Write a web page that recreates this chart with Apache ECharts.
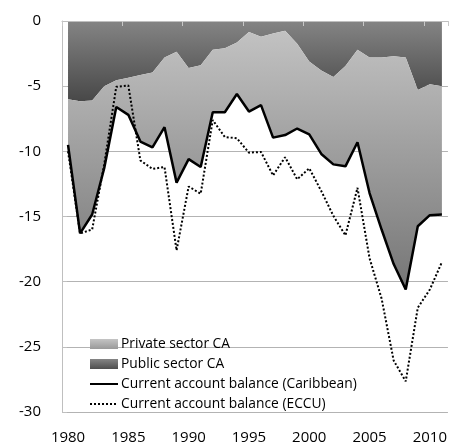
<!DOCTYPE html>
<html>
<head>
<meta charset="utf-8">
<script src="https://cdn.jsdelivr.net/npm/echarts@6/dist/echarts.min.js"></script>
<style>html,body{margin:0;padding:0;background:#fff}#c{width:450px;height:445px}</style>
</head>
<body>
<div id="c"></div>
<script>
var years = [];
for (var y = 1980; y <= 2011; y++) years.push(String(y));

var publicCA = [-6.0,-6.15,-6.1,-5.0,-4.55,-4.35,-4.15,-3.95,-2.8,-2.35,-3.6,-3.4,-2.2,-2.1,-1.65,-0.85,
  -1.2,-0.95,-0.75,-1.75,-3.1,-3.8,-4.3,-3.45,-2.2,-2.8,-2.8,-2.7,-2.8,-5.3,-4.85,-5.0];
var caribbean = [-9.5,-16.3,-14.85,-11.3,-6.6,-7.2,-9.25,-9.7,-8.15,-12.4,-10.6,-11.2,-7.0,-7.0,-5.6,-6.95,
  -6.45,-8.95,-8.75,-8.25,-8.7,-10.2,-11.0,-11.15,-9.3,-13.2,-16.0,-18.65,-20.6,-15.75,-14.9,-14.85];
var eccu = [-10.0,-16.3,-16.0,-11.0,-5.05,-4.95,-10.7,-11.35,-11.2,-17.6,-12.7,-13.25,-7.6,-8.9,-9.0,-10.1,
  -10.05,-11.85,-10.45,-12.15,-11.3,-13.05,-14.95,-16.45,-12.8,-18.2,-21.3,-26.05,-27.65,-22.0,-20.6,-18.5];
var privateCA = caribbean.map(function (v, i) { return +(v - publicCA[i]).toFixed(2); });

var names = ['Private sector CA', 'Public sector CA', 'Current account balance (Caribbean)', 'Current account balance (ECCU)'];

function grad(a, b) {
  return new echarts.graphic.LinearGradient(0, 0, 0, 1, [{offset: 0, color: a}, {offset: 1, color: b}]);
}
var darkGrad = grad('#848484', '#484848');
var lightGrad = grad('#c2c2c2', '#767676');

var chart = echarts.init(document.getElementById('c'), null, {renderer: 'canvas'});
var font = '"Open Sans", "Liberation Sans", sans-serif';
chart.setOption({
  animation: false,
  grid: {left: 62, right: 2, top: 21, bottom: 32},
  legend: {
    orient: 'vertical', left: 84, top: 332,
    itemWidth: 28, itemHeight: 10, itemGap: 6,
    textStyle: {fontFamily: font, fontSize: 13.8, color: '#000', padding: [0, 0, 0, -2]},
    data: [
      {name: names[0], icon: 'rect', itemStyle: {color: grad('#c4c4c4', '#999999'), borderWidth: 0}},
      {name: names[1], icon: 'rect', itemStyle: {color: grad('#858585', '#4e4e4e'), borderWidth: 0}},
      {name: names[2], itemStyle: {opacity: 0}},
      {name: names[3], itemStyle: {opacity: 0}}
    ]
  },
  xAxis: [{
    type: 'category', data: years, position: 'top', boundaryGap: true, z: 10,
    axisLine: {show: true, onZero: false, lineStyle: {color: '#bfbfbf', width: 1}},
    axisTick: {show: true, inside: true, length: 5, interval: 4, lineStyle: {color: '#c8c8c8'}},
    axisLabel: {show: false}, splitLine: {show: false}
  }, {
    type: 'category', data: years, position: 'bottom', boundaryGap: true,
    axisLine: {show: false}, axisTick: {show: false},
    axisLabel: {interval: 4, margin: 18, fontFamily: font, fontSize: 15, color: '#000'},
    splitLine: {show: false}
  }],
  yAxis: {
    type: 'value', min: -30, max: 0, interval: 5,
    axisLine: {show: true, lineStyle: {color: '#bfbfbf'}},
    axisTick: {show: true, inside: true, length: 5, lineStyle: {color: '#bfbfbf'}},
    axisLabel: {margin: 21, fontFamily: font, fontSize: 15, color: '#000'},
    splitLine: {show: true, lineStyle: {color: '#b3b3b3', width: 1}}
  },
  series: [{
    name: names[1], type: 'line', stack: 'ca', data: publicCA, symbol: 'none',
    itemStyle: {color: '#6a6a6a'},
    lineStyle: {width: 0, opacity: 0}, areaStyle: {color: darkGrad, opacity: 1}
  }, {
    name: names[0], type: 'line', stack: 'ca', data: privateCA, symbol: 'none',
    itemStyle: {color: '#aaaaaa'},
    lineStyle: {width: 0, opacity: 0}, areaStyle: {color: lightGrad, opacity: 1}
  }, {
    name: names[2], type: 'line', data: caribbean, symbol: 'none', z: 5,
    itemStyle: {color: '#000'},
    lineStyle: {color: '#000', width: 2.5}
  }, {
    name: names[3], type: 'line', data: eccu, symbol: 'none', z: 5,
    itemStyle: {color: '#000'},
    lineStyle: {color: '#000', width: 2, type: [2, 2]}
  }]
});
</script>
</body>
</html>
